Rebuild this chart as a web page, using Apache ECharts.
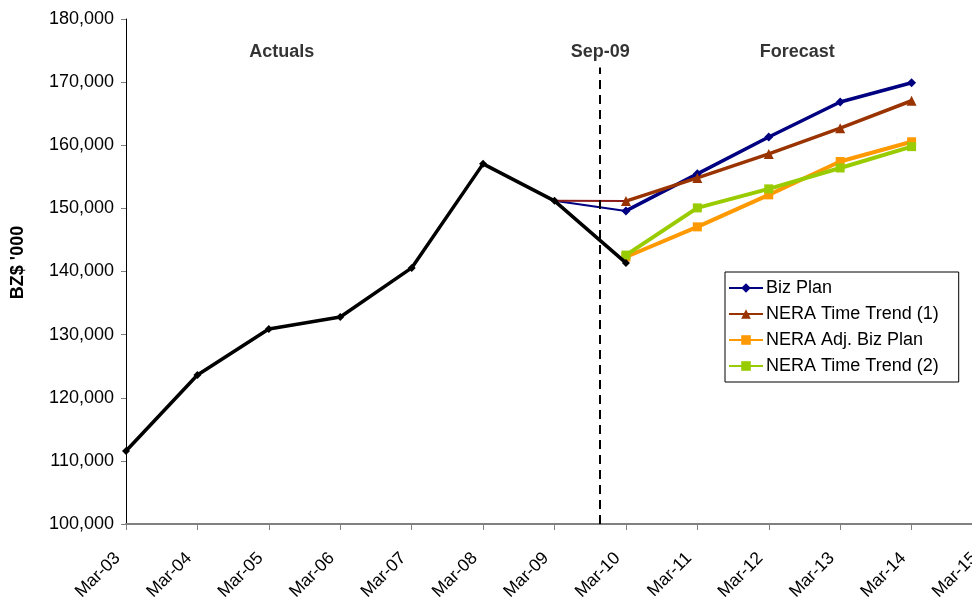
<!DOCTYPE html>
<html>
<head>
<meta charset="utf-8">
<script src="https://cdn.jsdelivr.net/npm/echarts@6/dist/echarts.min.js"></script>
<style>
  html, body { margin: 0; padding: 0; background: #fff; }
  #chart { width: 972px; height: 605px; }
</style>
</head>
<body>
<div id="chart"></div>
<script>
// Fiscal year-end labels along the x axis (index 0..12)
const monthLabels = ['Mar-03', 'Mar-04', 'Mar-05', 'Mar-06', 'Mar-07', 'Mar-08', 'Mar-09',
                     'Mar-10', 'Mar-11', 'Mar-12', 'Mar-13', 'Mar-14', 'Mar-15'];

// Revenue, BZ$ '000 (null = no value for that year)
const actuals        = [111570, 123610, 130900, 132800, 140570, 157050, 151190, 141360];
const bizPlanLink    = [null, null, null, null, null, null, 151190, 149600];
const bizPlan        = [null, null, null, null, null, null, null, 149600, 155470, 161300, 166850, 169900];
const trend1Link     = [null, null, null, null, null, null, 151190, 151150];
const trend1         = [null, null, null, null, null, null, null, 151150, 154830, 158620, 162700, 167050];
const adjBizPlan     = [null, null, null, null, null, null, null, 142300, 147070, 152140, 157430, 160550];
const trend2         = [null, null, null, null, null, null, null, 142600, 150080, 153090, 156400, 159780];

// Y axis range and step
const yMin = 100000, yMax = 180000, yStep = 10000;

// Position of the actuals / forecast divider (Sep-09), in x-axis index units
const dividerX = 6.63;
const dividerTop = 172300;

// Text annotations across the top of the plot
const annotationTexts = ['Actuals', 'Sep-09', 'Forecast'];
const annotationX     = [2.18, 6.64, 9.4];
const annotationY     = [174800, 174800, 174800];

const toPairs = arr => arr.map((v, i) => [i, v]);

const FONT = 'Liberation Sans, Arial, sans-serif';

const chart = echarts.init(document.getElementById('chart'), null, { renderer: 'canvas' });

chart.setOption({
  animation: false,
  backgroundColor: '#ffffff',
  grid: { left: 126, right: -11, top: 19, bottom: 81, containLabel: false, outerBoundsMode: 'none' },
  legend: {
    data: ['Biz Plan', 'NERA Time Trend (1)', 'NERA Adj. Biz Plan', 'NERA Time Trend (2)'],
    orient: 'vertical',
    left: 725,
    top: 272,
    backgroundColor: '#ffffff',
    borderColor: '#000000',
    borderWidth: 1,
    borderRadius: 0,
    padding: [6, 20, 6, 3],
    itemWidth: 34,
    itemHeight: 12,
    itemGap: 6,
    textStyle: { fontFamily: FONT, fontSize: 18, color: '#000', lineHeight: 20, padding: [0, 0, 0, -2] }
  },
  xAxis: {
    type: 'value',
    min: 0,
    max: 12,
    interval: 1,
    splitLine: { show: false },
    axisLine: { show: true, lineStyle: { color: '#808080', width: 2 } },
    axisTick: { show: true, length: 6, lineStyle: { color: '#808080', width: 1 } },
    axisLabel: {
      rotate: 45,
      margin: 23,
      padding: [0, 12, 0, 0],
      fontFamily: FONT,
      fontSize: 17.5,
      color: '#000',
      showMaxLabel: true,
      formatter: v => monthLabels[v] || ''
    }
  },
  yAxis: {
    type: 'value',
    min: yMin,
    max: yMax,
    interval: yStep,
    name: "BZ$ '000",
    nameLocation: 'middle',
    nameRotate: 90,
    nameGap: 99,
    nameTextStyle: { fontFamily: FONT, fontSize: 18, fontWeight: 'bold', color: '#000', padding: [0, 0, 0, 18] },
    splitLine: { show: false },
    axisLine: { show: true, lineStyle: { color: '#000000', width: 1 } },
    axisTick: { show: true, length: 5, lineStyle: { color: '#808080' } },
    axisLabel: {
      margin: 12,
      fontFamily: FONT,
      fontSize: 18,
      color: '#000',
      formatter: v => v.toLocaleString('en-US')
    }
  },
  series: [
    {
      name: 'Actuals',
      type: 'line',
      data: toPairs(actuals),
      symbol: 'diamond',
      symbolSize: 8,
      showAllSymbol: true,
      z: 5,
      lineStyle: { color: '#000000', width: 3.5 },
      itemStyle: { color: '#000000' },
      markLine: {
        silent: true,
        symbol: 'none',
        label: { show: false },
        lineStyle: { color: '#000000', width: 2, type: [9, 6] },
        data: [[{ coord: [dividerX, yMin] }, { coord: [dividerX, dividerTop] }]]
      }
    },
    {
      name: 'Biz Plan link',
      type: 'line',
      data: toPairs(bizPlanLink),
      symbol: 'none',
      z: 3,
      lineStyle: { color: '#000080', width: 2 }
    },
    {
      name: 'NERA Time Trend (1) link',
      type: 'line',
      data: toPairs(trend1Link),
      symbol: 'none',
      z: 3,
      lineStyle: { color: '#8B1A1A', width: 2 }
    },
    {
      name: 'Biz Plan',
      type: 'line',
      data: toPairs(bizPlan),
      symbol: 'diamond',
      symbolSize: 9,
      z: 4,
      lineStyle: { color: '#000080', width: 3.5 },
      itemStyle: { color: '#000080' }
    },
    {
      name: 'NERA Time Trend (1)',
      type: 'line',
      data: toPairs(trend1),
      symbol: 'triangle',
      symbolSize: 10,
      z: 4,
      lineStyle: { color: '#993300', width: 3.5 },
      itemStyle: { color: '#993300' }
    },
    {
      name: 'NERA Adj. Biz Plan',
      type: 'line',
      data: toPairs(adjBizPlan),
      symbol: 'rect',
      symbolSize: 9,
      z: 4,
      lineStyle: { color: '#FF9900', width: 4 },
      itemStyle: { color: '#FF9900' }
    },
    {
      name: 'NERA Time Trend (2)',
      type: 'line',
      data: toPairs(trend2),
      symbol: 'rect',
      symbolSize: 9,
      z: 4,
      lineStyle: { color: '#99CC00', width: 4 },
      itemStyle: { color: '#99CC00' }
    },
    {
      name: 'annotations',
      type: 'scatter',
      silent: true,
      symbolSize: 0,
      data: annotationTexts.map((t, i) => ({ name: t, value: [annotationX[i], annotationY[i]] })),
      label: {
        show: true,
        position: 'inside',
        formatter: p => p.name,
        fontFamily: FONT,
        fontSize: 18,
        fontWeight: 'bold',
        color: '#000'
      }
    }
  ]
});
</script>
</body>
</html>
